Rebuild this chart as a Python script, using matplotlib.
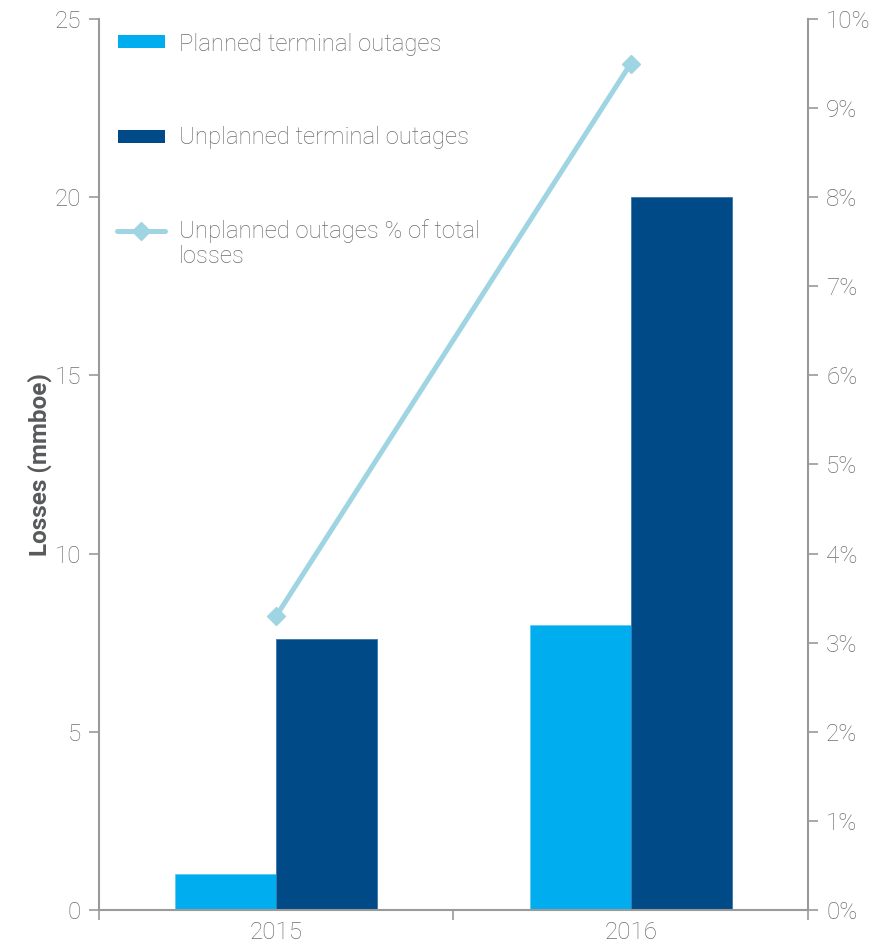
import matplotlib
matplotlib.use("Agg")
import matplotlib.pyplot as plt
from matplotlib.ticker import FuncFormatter, FixedLocator
from matplotlib.lines import Line2D
from matplotlib.patches import Rectangle
import numpy as np

years = ["2015", "2016"]
planned = [1.0, 8.0]
unplanned = [7.6, 20.0]
unplanned_pct = [3.3, 9.5]

labels = ["Planned terminal outages", "Unplanned terminal outages",
          "Unplanned outages % of total\nlosses"]

c_planned = "#00aeef"
c_unplanned = "#004a87"
c_line = "#9fd5e2"
c_text = "#6d6e71"
c_axis = "#9a9a9a"

plt.rcParams["font.family"] = ["Roboto", "DejaVu Sans"]

fig = plt.figure(figsize=(8.95, 9.5), dpi=100)
ax = fig.add_axes([99 / 895, 40 / 950, 709 / 895, 891 / 950])
ax2 = ax.twinx()

x = np.arange(len(years))
w = 0.285
ax.bar(x - w / 2, planned, w, color=c_planned, edgecolor="#5fc8ef", linewidth=0.6, zorder=2)
ax.bar(x + w / 2, unplanned, w, color=c_unplanned, edgecolor="#3a78ad", linewidth=0.6, zorder=2)

ax2.plot(x, unplanned_pct, color=c_line, lw=3.6, marker="D", ms=9,
         markerfacecolor=c_line, markeredgecolor=c_line, solid_capstyle="round", zorder=3)

ax.set_xlim(-0.5, 1.5)
ax.set_ylim(0, 25)
ax2.set_ylim(0, 10)

ax.set_yticks([0, 5, 10, 15, 20, 25])
ax2.set_yticks(range(0, 11))
ax2.yaxis.set_major_formatter(FuncFormatter(lambda v, p: f"{int(v)}%"))

ax.set_xticks(x)
ax.set_xticklabels(years)
ax.xaxis.set_minor_locator(FixedLocator([-0.5, 0.5, 1.5]))
ax.tick_params(axis="x", which="major", length=0, pad=8)
ax.tick_params(axis="x", which="minor", length=7, width=1.2, color=c_axis, direction="out")

tick_font = dict(labelsize=17.5, labelcolor=c_text)
ax.tick_params(axis="both", which="major", **tick_font)
ax.tick_params(axis="y", length=7, width=1.2, color=c_axis, pad=6)
ax2.tick_params(axis="y", length=7, width=1.2, color=c_axis, pad=6, **tick_font)

for a in (ax, ax2):
    for lab in a.get_xticklabels() + a.get_yticklabels():
        lab.set_fontweight("light")
    a.spines["top"].set_visible(False)
    for s in ("left", "right", "bottom"):
        a.spines[s].set_color(c_axis)
        a.spines[s].set_linewidth(1.5)
ax2.spines["left"].set_visible(False)
ax2.spines["bottom"].set_visible(False)
ax.spines["right"].set_visible(False)

ax.set_ylabel("Losses (mmboe)", fontsize=17.5, fontweight="bold", color="#58595b", labelpad=2)

# Legend keys and labels, laid out in axes coordinates
tr = ax.transAxes
ax.add_patch(Rectangle((0.0268, 0.9674), 0.0663, 0.0146, transform=tr,
                       facecolor=c_planned, edgecolor="none", clip_on=False, zorder=4))
ax.add_patch(Rectangle((0.0268, 0.8608), 0.0663, 0.0146, transform=tr,
                       facecolor=c_unplanned, edgecolor="none", clip_on=False, zorder=4))
ax.add_line(Line2D([0.026, 0.0935], [0.7621, 0.7621], transform=tr, color=c_line, lw=3.6,
                   solid_capstyle="round", zorder=4))
ax.add_line(Line2D([0.059], [0.7621], transform=tr, marker="D", ms=9, color=c_line,
                   markerfacecolor=c_line, markeredgecolor=c_line, zorder=4))

label_y = [0.9711, 0.8667, 0.7480]
for txt, yy in zip(labels, label_y):
    ax.text(0.1128, yy, txt, transform=tr, fontsize=17.2, fontweight="light",
            color=c_text, ha="left", va="center", linespacing=1.15, zorder=4)

fig.savefig("out.png", dpi=100, facecolor="white")
